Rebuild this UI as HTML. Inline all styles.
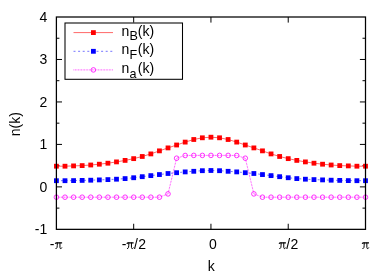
<!DOCTYPE html>
<html><head><meta charset="utf-8"><title>n(k)</title>
<style>
html,body{margin:0;padding:0;background:#fff;}
body{width:390px;height:273px;overflow:hidden;}
svg{display:block;will-change:transform;}
text{font-family:"Liberation Sans",sans-serif;font-size:14px;fill:#000;}
.pi{font-family:"Liberation Serif",serif;}
</style></head><body>
<svg width="390" height="273" viewBox="0 0 390 273">
<rect x="0" y="0" width="390" height="273" fill="#fff"/>
<path d="M56.4 208.12h3M365.5 208.12h-3" stroke="#000" stroke-width="1" fill="none"/>
<path d="M56.4 186.88h5.6M365.5 186.88h-5.6" stroke="#000" stroke-width="1" fill="none"/>
<path d="M56.4 165.64h3M365.5 165.64h-3" stroke="#000" stroke-width="1" fill="none"/>
<path d="M56.4 144.41h5.6M365.5 144.41h-5.6" stroke="#000" stroke-width="1" fill="none"/>
<path d="M56.4 123.17h3M365.5 123.17h-3" stroke="#000" stroke-width="1" fill="none"/>
<path d="M56.4 101.94h5.6M365.5 101.94h-5.6" stroke="#000" stroke-width="1" fill="none"/>
<path d="M56.4 80.70h3M365.5 80.70h-3" stroke="#000" stroke-width="1" fill="none"/>
<path d="M56.4 59.47h5.6M365.5 59.47h-5.6" stroke="#000" stroke-width="1" fill="none"/>
<path d="M56.4 38.24h3M365.5 38.24h-3" stroke="#000" stroke-width="1" fill="none"/>
<path d="M133.68 229.35v-5.6M133.68 17.0v5.6" stroke="#000" stroke-width="1" fill="none"/>
<path d="M210.95 229.35v-5.6M210.95 17.0v5.6" stroke="#000" stroke-width="1" fill="none"/>
<path d="M288.23 229.35v-5.6M288.23 17.0v5.6" stroke="#000" stroke-width="1" fill="none"/>
<polyline points="56.40,166.20 64.99,166.20 73.57,165.90 82.16,165.60 90.74,165.00 99.33,164.20 107.92,163.20 116.50,161.90 125.09,160.40 133.68,158.64 142.26,156.48 150.85,153.92 159.43,150.86 168.02,147.90 176.61,145.00 185.19,142.10 193.78,139.50 202.36,137.80 210.95,137.20 219.54,137.80 228.12,139.50 236.71,142.10 245.29,145.00 253.88,147.90 262.47,150.86 271.05,153.92 279.64,156.48 288.23,158.64 296.81,160.40 305.40,161.90 313.98,163.20 322.57,164.20 331.16,165.00 339.74,165.60 348.33,165.90 356.91,166.20 365.50,166.20" fill="none" stroke="#ff0000" stroke-width="0.6"/>
<polyline points="56.40,180.70 64.99,180.70 73.57,180.60 82.16,180.40 90.74,180.20 99.33,179.90 107.92,179.60 116.50,179.20 125.09,178.60 133.68,177.74 142.26,176.68 150.85,175.62 159.43,174.56 168.02,173.50 176.61,172.70 185.19,171.90 193.78,171.30 202.36,170.70 210.95,170.50 219.54,170.70 228.12,171.30 236.71,171.90 245.29,172.70 253.88,173.50 262.47,174.56 271.05,175.62 279.64,176.68 288.23,177.74 296.81,178.60 305.40,179.20 313.98,179.60 322.57,179.90 331.16,180.20 339.74,180.40 348.33,180.60 356.91,180.70 365.50,180.70" fill="none" stroke="#0000ff" stroke-width="0.55" stroke-dasharray="2 2.6"/>
<polyline points="56.40,197.20 64.99,197.20 73.57,197.20 82.16,197.20 90.74,197.20 99.33,197.20 107.92,197.20 116.50,197.20 125.09,197.20 133.68,197.20 142.26,197.20 150.85,197.20 159.43,197.20 168.02,193.90 176.61,158.20 185.19,155.50 193.78,155.40 202.36,155.40 210.95,155.40 219.54,155.40 228.12,155.40 236.71,155.50 245.29,158.20 253.88,193.90 262.47,197.20 271.05,197.20 279.64,197.20 288.23,197.20 296.81,197.20 305.40,197.20 313.98,197.20 322.57,197.20 331.16,197.20 339.74,197.20 348.33,197.20 356.91,197.20 365.50,197.20" fill="none" stroke="#ff00ff" stroke-width="0.8" stroke-dasharray="0.77 0.77"/>
<rect x="54.00" y="163.80" width="4.8" height="4.8" fill="#ff0000"/>
<rect x="62.59" y="163.80" width="4.8" height="4.8" fill="#ff0000"/>
<rect x="71.17" y="163.50" width="4.8" height="4.8" fill="#ff0000"/>
<rect x="79.76" y="163.20" width="4.8" height="4.8" fill="#ff0000"/>
<rect x="88.34" y="162.60" width="4.8" height="4.8" fill="#ff0000"/>
<rect x="96.93" y="161.80" width="4.8" height="4.8" fill="#ff0000"/>
<rect x="105.52" y="160.80" width="4.8" height="4.8" fill="#ff0000"/>
<rect x="114.10" y="159.50" width="4.8" height="4.8" fill="#ff0000"/>
<rect x="122.69" y="158.00" width="4.8" height="4.8" fill="#ff0000"/>
<rect x="131.28" y="156.24" width="4.8" height="4.8" fill="#ff0000"/>
<rect x="139.86" y="154.08" width="4.8" height="4.8" fill="#ff0000"/>
<rect x="148.45" y="151.52" width="4.8" height="4.8" fill="#ff0000"/>
<rect x="157.03" y="148.46" width="4.8" height="4.8" fill="#ff0000"/>
<rect x="165.62" y="145.50" width="4.8" height="4.8" fill="#ff0000"/>
<rect x="174.21" y="142.60" width="4.8" height="4.8" fill="#ff0000"/>
<rect x="182.79" y="139.70" width="4.8" height="4.8" fill="#ff0000"/>
<rect x="191.38" y="137.10" width="4.8" height="4.8" fill="#ff0000"/>
<rect x="199.96" y="135.40" width="4.8" height="4.8" fill="#ff0000"/>
<rect x="208.55" y="134.80" width="4.8" height="4.8" fill="#ff0000"/>
<rect x="217.14" y="135.40" width="4.8" height="4.8" fill="#ff0000"/>
<rect x="225.72" y="137.10" width="4.8" height="4.8" fill="#ff0000"/>
<rect x="234.31" y="139.70" width="4.8" height="4.8" fill="#ff0000"/>
<rect x="242.89" y="142.60" width="4.8" height="4.8" fill="#ff0000"/>
<rect x="251.48" y="145.50" width="4.8" height="4.8" fill="#ff0000"/>
<rect x="260.07" y="148.46" width="4.8" height="4.8" fill="#ff0000"/>
<rect x="268.65" y="151.52" width="4.8" height="4.8" fill="#ff0000"/>
<rect x="277.24" y="154.08" width="4.8" height="4.8" fill="#ff0000"/>
<rect x="285.83" y="156.24" width="4.8" height="4.8" fill="#ff0000"/>
<rect x="294.41" y="158.00" width="4.8" height="4.8" fill="#ff0000"/>
<rect x="303.00" y="159.50" width="4.8" height="4.8" fill="#ff0000"/>
<rect x="311.58" y="160.80" width="4.8" height="4.8" fill="#ff0000"/>
<rect x="320.17" y="161.80" width="4.8" height="4.8" fill="#ff0000"/>
<rect x="328.76" y="162.60" width="4.8" height="4.8" fill="#ff0000"/>
<rect x="337.34" y="163.20" width="4.8" height="4.8" fill="#ff0000"/>
<rect x="345.93" y="163.50" width="4.8" height="4.8" fill="#ff0000"/>
<rect x="354.51" y="163.80" width="4.8" height="4.8" fill="#ff0000"/>
<rect x="363.10" y="163.80" width="4.8" height="4.8" fill="#ff0000"/>
<rect x="54.00" y="178.30" width="4.8" height="4.8" fill="#0000ff"/>
<rect x="62.59" y="178.30" width="4.8" height="4.8" fill="#0000ff"/>
<rect x="71.17" y="178.20" width="4.8" height="4.8" fill="#0000ff"/>
<rect x="79.76" y="178.00" width="4.8" height="4.8" fill="#0000ff"/>
<rect x="88.34" y="177.80" width="4.8" height="4.8" fill="#0000ff"/>
<rect x="96.93" y="177.50" width="4.8" height="4.8" fill="#0000ff"/>
<rect x="105.52" y="177.20" width="4.8" height="4.8" fill="#0000ff"/>
<rect x="114.10" y="176.80" width="4.8" height="4.8" fill="#0000ff"/>
<rect x="122.69" y="176.20" width="4.8" height="4.8" fill="#0000ff"/>
<rect x="131.28" y="175.34" width="4.8" height="4.8" fill="#0000ff"/>
<rect x="139.86" y="174.28" width="4.8" height="4.8" fill="#0000ff"/>
<rect x="148.45" y="173.22" width="4.8" height="4.8" fill="#0000ff"/>
<rect x="157.03" y="172.16" width="4.8" height="4.8" fill="#0000ff"/>
<rect x="165.62" y="171.10" width="4.8" height="4.8" fill="#0000ff"/>
<rect x="174.21" y="170.30" width="4.8" height="4.8" fill="#0000ff"/>
<rect x="182.79" y="169.50" width="4.8" height="4.8" fill="#0000ff"/>
<rect x="191.38" y="168.90" width="4.8" height="4.8" fill="#0000ff"/>
<rect x="199.96" y="168.30" width="4.8" height="4.8" fill="#0000ff"/>
<rect x="208.55" y="168.10" width="4.8" height="4.8" fill="#0000ff"/>
<rect x="217.14" y="168.30" width="4.8" height="4.8" fill="#0000ff"/>
<rect x="225.72" y="168.90" width="4.8" height="4.8" fill="#0000ff"/>
<rect x="234.31" y="169.50" width="4.8" height="4.8" fill="#0000ff"/>
<rect x="242.89" y="170.30" width="4.8" height="4.8" fill="#0000ff"/>
<rect x="251.48" y="171.10" width="4.8" height="4.8" fill="#0000ff"/>
<rect x="260.07" y="172.16" width="4.8" height="4.8" fill="#0000ff"/>
<rect x="268.65" y="173.22" width="4.8" height="4.8" fill="#0000ff"/>
<rect x="277.24" y="174.28" width="4.8" height="4.8" fill="#0000ff"/>
<rect x="285.83" y="175.34" width="4.8" height="4.8" fill="#0000ff"/>
<rect x="294.41" y="176.20" width="4.8" height="4.8" fill="#0000ff"/>
<rect x="303.00" y="176.80" width="4.8" height="4.8" fill="#0000ff"/>
<rect x="311.58" y="177.20" width="4.8" height="4.8" fill="#0000ff"/>
<rect x="320.17" y="177.50" width="4.8" height="4.8" fill="#0000ff"/>
<rect x="328.76" y="177.80" width="4.8" height="4.8" fill="#0000ff"/>
<rect x="337.34" y="178.00" width="4.8" height="4.8" fill="#0000ff"/>
<rect x="345.93" y="178.20" width="4.8" height="4.8" fill="#0000ff"/>
<rect x="354.51" y="178.30" width="4.8" height="4.8" fill="#0000ff"/>
<rect x="363.10" y="178.30" width="4.8" height="4.8" fill="#0000ff"/>
<circle cx="56.40" cy="197.20" r="2.3" fill="none" stroke="#ff00ff" stroke-width="0.8"/>
<circle cx="64.99" cy="197.20" r="2.3" fill="none" stroke="#ff00ff" stroke-width="0.8"/>
<circle cx="73.57" cy="197.20" r="2.3" fill="none" stroke="#ff00ff" stroke-width="0.8"/>
<circle cx="82.16" cy="197.20" r="2.3" fill="none" stroke="#ff00ff" stroke-width="0.8"/>
<circle cx="90.74" cy="197.20" r="2.3" fill="none" stroke="#ff00ff" stroke-width="0.8"/>
<circle cx="99.33" cy="197.20" r="2.3" fill="none" stroke="#ff00ff" stroke-width="0.8"/>
<circle cx="107.92" cy="197.20" r="2.3" fill="none" stroke="#ff00ff" stroke-width="0.8"/>
<circle cx="116.50" cy="197.20" r="2.3" fill="none" stroke="#ff00ff" stroke-width="0.8"/>
<circle cx="125.09" cy="197.20" r="2.3" fill="none" stroke="#ff00ff" stroke-width="0.8"/>
<circle cx="133.68" cy="197.20" r="2.3" fill="none" stroke="#ff00ff" stroke-width="0.8"/>
<circle cx="142.26" cy="197.20" r="2.3" fill="none" stroke="#ff00ff" stroke-width="0.8"/>
<circle cx="150.85" cy="197.20" r="2.3" fill="none" stroke="#ff00ff" stroke-width="0.8"/>
<circle cx="159.43" cy="197.20" r="2.3" fill="none" stroke="#ff00ff" stroke-width="0.8"/>
<circle cx="168.02" cy="193.90" r="2.3" fill="none" stroke="#ff00ff" stroke-width="0.8"/>
<circle cx="176.61" cy="158.20" r="2.3" fill="none" stroke="#ff00ff" stroke-width="0.8"/>
<circle cx="185.19" cy="155.50" r="2.3" fill="none" stroke="#ff00ff" stroke-width="0.8"/>
<circle cx="193.78" cy="155.40" r="2.3" fill="none" stroke="#ff00ff" stroke-width="0.8"/>
<circle cx="202.36" cy="155.40" r="2.3" fill="none" stroke="#ff00ff" stroke-width="0.8"/>
<circle cx="210.95" cy="155.40" r="2.3" fill="none" stroke="#ff00ff" stroke-width="0.8"/>
<circle cx="219.54" cy="155.40" r="2.3" fill="none" stroke="#ff00ff" stroke-width="0.8"/>
<circle cx="228.12" cy="155.40" r="2.3" fill="none" stroke="#ff00ff" stroke-width="0.8"/>
<circle cx="236.71" cy="155.50" r="2.3" fill="none" stroke="#ff00ff" stroke-width="0.8"/>
<circle cx="245.29" cy="158.20" r="2.3" fill="none" stroke="#ff00ff" stroke-width="0.8"/>
<circle cx="253.88" cy="193.90" r="2.3" fill="none" stroke="#ff00ff" stroke-width="0.8"/>
<circle cx="262.47" cy="197.20" r="2.3" fill="none" stroke="#ff00ff" stroke-width="0.8"/>
<circle cx="271.05" cy="197.20" r="2.3" fill="none" stroke="#ff00ff" stroke-width="0.8"/>
<circle cx="279.64" cy="197.20" r="2.3" fill="none" stroke="#ff00ff" stroke-width="0.8"/>
<circle cx="288.23" cy="197.20" r="2.3" fill="none" stroke="#ff00ff" stroke-width="0.8"/>
<circle cx="296.81" cy="197.20" r="2.3" fill="none" stroke="#ff00ff" stroke-width="0.8"/>
<circle cx="305.40" cy="197.20" r="2.3" fill="none" stroke="#ff00ff" stroke-width="0.8"/>
<circle cx="313.98" cy="197.20" r="2.3" fill="none" stroke="#ff00ff" stroke-width="0.8"/>
<circle cx="322.57" cy="197.20" r="2.3" fill="none" stroke="#ff00ff" stroke-width="0.8"/>
<circle cx="331.16" cy="197.20" r="2.3" fill="none" stroke="#ff00ff" stroke-width="0.8"/>
<circle cx="339.74" cy="197.20" r="2.3" fill="none" stroke="#ff00ff" stroke-width="0.8"/>
<circle cx="348.33" cy="197.20" r="2.3" fill="none" stroke="#ff00ff" stroke-width="0.8"/>
<circle cx="356.91" cy="197.20" r="2.3" fill="none" stroke="#ff00ff" stroke-width="0.8"/>
<circle cx="365.50" cy="197.20" r="2.3" fill="none" stroke="#ff00ff" stroke-width="0.8"/>
<rect x="56.4" y="17.0" width="309.1" height="212.35" fill="none" stroke="#000" stroke-width="1.25"/>
<text x="47.3" y="234.10" text-anchor="end">-1</text>
<text x="47.3" y="191.63" text-anchor="end">0</text>
<text x="47.3" y="149.16" text-anchor="end">1</text>
<text x="47.3" y="106.69" text-anchor="end">2</text>
<text x="47.3" y="64.22" text-anchor="end">3</text>
<text x="47.3" y="21.75" text-anchor="end">4</text>
<rect x="65" y="23" width="117.5" height="56.3" fill="#fff" stroke="#000" stroke-width="1.05"/>
<path d="M73.5 32.6H113" stroke="#ff0000" stroke-width="0.6"/>
<path d="M73.5 51.3H113" stroke="#0000ff" stroke-width="0.55" stroke-dasharray="2 2.6"/>
<path d="M73.5 69.9H113" stroke="#ff00ff" stroke-width="0.8" stroke-dasharray="0.77 0.77"/>
<rect x="91.0" y="30.200000000000003" width="4.8" height="4.8" fill="#ff0000"/>
<rect x="91.0" y="48.9" width="4.8" height="4.8" fill="#0000ff"/>
<circle cx="93.4" cy="69.9" r="2.3" fill="none" stroke="#ff00ff" stroke-width="0.8"/>
<text x="121.6" y="35.60">n<tspan font-size="12.6" dy="4.8">B</tspan></text><text x="137.8" y="35.60">(k)</text>
<text x="121.6" y="54.30">n<tspan font-size="12.6" dy="4.8">F</tspan></text><text x="137.8" y="54.30">(k)</text>
<text x="121.6" y="72.90">n<tspan font-size="12.6" dy="4.8">a</tspan></text><text x="137.8" y="72.90">(k)</text>
<text x="49.8" y="249.1">-</text><g transform="translate(54.6 249.1)" fill="none" stroke="#000" stroke-linecap="round" stroke-linejoin="round"><path d="M0.7 -5.3Q1.1 -6.25 2.1 -6.25H7.5" stroke-width="1.2" stroke-linecap="butt"/><path d="M2.75 -6.2Q2.75 -2.8 2.4 -1.5Q2.1 -0.45 1.35 -0.55" stroke-width="1.0"/><path d="M5.35 -6.2V-1.7Q5.35 -0.45 6.25 -0.5Q6.85 -0.55 7.15 -1.2" stroke-width="1.0"/></g>
<text x="121.7" y="249.1">-</text><g transform="translate(126.1 249.1)" fill="none" stroke="#000" stroke-linecap="round" stroke-linejoin="round"><path d="M0.7 -5.3Q1.1 -6.25 2.1 -6.25H7.5" stroke-width="1.2" stroke-linecap="butt"/><path d="M2.75 -6.2Q2.75 -2.8 2.4 -1.5Q2.1 -0.45 1.35 -0.55" stroke-width="1.0"/><path d="M5.35 -6.2V-1.7Q5.35 -0.45 6.25 -0.5Q6.85 -0.55 7.15 -1.2" stroke-width="1.0"/></g><text x="134.1" y="249.1">/</text><text x="138.2" y="249.1">2</text>
<text x="209.1" y="249.1">0</text>
<g transform="translate(278.4 249.1)" fill="none" stroke="#000" stroke-linecap="round" stroke-linejoin="round"><path d="M0.7 -5.3Q1.1 -6.25 2.1 -6.25H7.5" stroke-width="1.2" stroke-linecap="butt"/><path d="M2.75 -6.2Q2.75 -2.8 2.4 -1.5Q2.1 -0.45 1.35 -0.55" stroke-width="1.0"/><path d="M5.35 -6.2V-1.7Q5.35 -0.45 6.25 -0.5Q6.85 -0.55 7.15 -1.2" stroke-width="1.0"/></g><text x="286.2" y="249.1">/</text><text x="290.6" y="249.1">2</text>
<g transform="translate(361.5 249.1)" fill="none" stroke="#000" stroke-linecap="round" stroke-linejoin="round"><path d="M0.7 -5.3Q1.1 -6.25 2.1 -6.25H7.5" stroke-width="1.2" stroke-linecap="butt"/><path d="M2.75 -6.2Q2.75 -2.8 2.4 -1.5Q2.1 -0.45 1.35 -0.55" stroke-width="1.0"/><path d="M5.35 -6.2V-1.7Q5.35 -0.45 6.25 -0.5Q6.85 -0.55 7.15 -1.2" stroke-width="1.0"/></g>
<text x="211.2" y="271.2" text-anchor="middle">k</text>
<text transform="translate(20 124.1) rotate(-90)" text-anchor="middle">n(k)</text>
</svg></body></html>
